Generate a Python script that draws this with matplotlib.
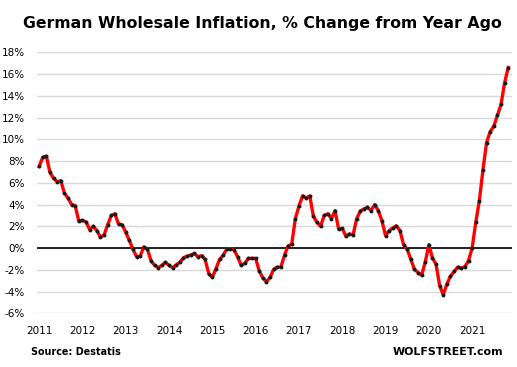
import matplotlib.pyplot as plt

# monthly % change from year ago, Jan 2011 - Nov 2021
years = ['2011', '2012', '2013', '2014', '2015', '2016', '2017', '2018', '2019', '2020', '2021']
inflation = [
    7.5, 8.35, 8.45, 6.95, 6.4, 6.1, 6.2, 5.05, 4.6, 4.0, 3.9, 2.45,
    2.55, 2.4, 1.7, 2.0, 1.6, 1.0, 1.2, 2.15, 3.0, 3.15, 2.2, 2.15,
    1.45, 0.7, -0.1, -0.8, -0.75, 0.1, -0.1, -1.15, -1.6, -1.8, -1.6, -1.3,
    -1.6, -1.8, -1.55, -1.3, -0.9, -0.75, -0.65, -0.5, -0.8, -0.7, -1.05, -2.35,
    -2.7, -1.9, -1.05, -0.65, -0.1, -0.05, -0.15, -0.8, -1.6, -1.4, -0.95, -0.95,
    -0.95, -2.1, -2.75, -3.1, -2.7, -1.95, -1.75, -1.75, -0.65, 0.2, 0.35, 2.7,
    3.85, 4.8, 4.6, 4.8, 2.95, 2.35, 2.0, 3.0, 3.15, 2.7, 3.45, 1.75,
    1.8, 1.1, 1.3, 1.2, 2.7, 3.4, 3.6, 3.75, 3.45, 4.0, 3.45, 2.5,
    1.15, 1.6, 1.85, 2.05, 1.6, 0.3, -0.1, -1.05, -1.95, -2.25, -2.5, -1.3,
    0.3, -0.9, -1.5, -3.45, -4.3, -3.3, -2.6, -2.15, -1.75, -1.85, -1.7, -1.15,
    0.0, 2.35, 4.35, 7.2, 9.7, 10.7, 11.2, 12.2, 13.2, 15.2, 16.6,
]
months = list(range(len(inflation)))
yticks = list(range(-6, 19, 2))

fig = plt.figure(figsize=(5.17, 3.67), dpi=100)
ax = fig.add_axes([0.0722, 0.1463, 0.9178, 0.7112])

ax.plot(months, inflation, color='#ff0000', linewidth=2.4, zorder=3)
ax.plot(months, inflation, linestyle='none', marker='o', markersize=1.8,
        color='#1a1a1a', zorder=4)
ax.axhline(0, color='black', linewidth=1.2, zorder=2)

ax.set_xlim(-0.5, 131)
ax.set_ylim(-6, 18)
ax.set_yticks(yticks)
ax.set_yticklabels([f'{v}%' for v in yticks])
ax.set_xticks(range(0, 121, 12))
ax.set_xticklabels(years)
ax.tick_params(length=0, labelsize=7.5, colors='black')
ax.tick_params(axis='y', pad=9)
ax.tick_params(axis='x', pad=9)
ax.grid(axis='y', color='#d9d9d9', linewidth=1)
ax.set_axisbelow(True)
for s in ax.spines.values():
    s.set_visible(False)

fig.text(0.507, 0.937, 'German Wholesale Inflation, % Change from Year Ago',
         ha='center', va='center', fontsize=11.3, fontweight='bold')
fig.text(0.06, 0.041, 'Source: Destatis', ha='left', va='center',
         fontsize=6.9, fontweight='bold')
fig.text(0.973, 0.041, 'WOLFSTREET.com', ha='right', va='center',
         fontsize=7.9, fontweight='bold')

fig.savefig('out.png', dpi=100)
